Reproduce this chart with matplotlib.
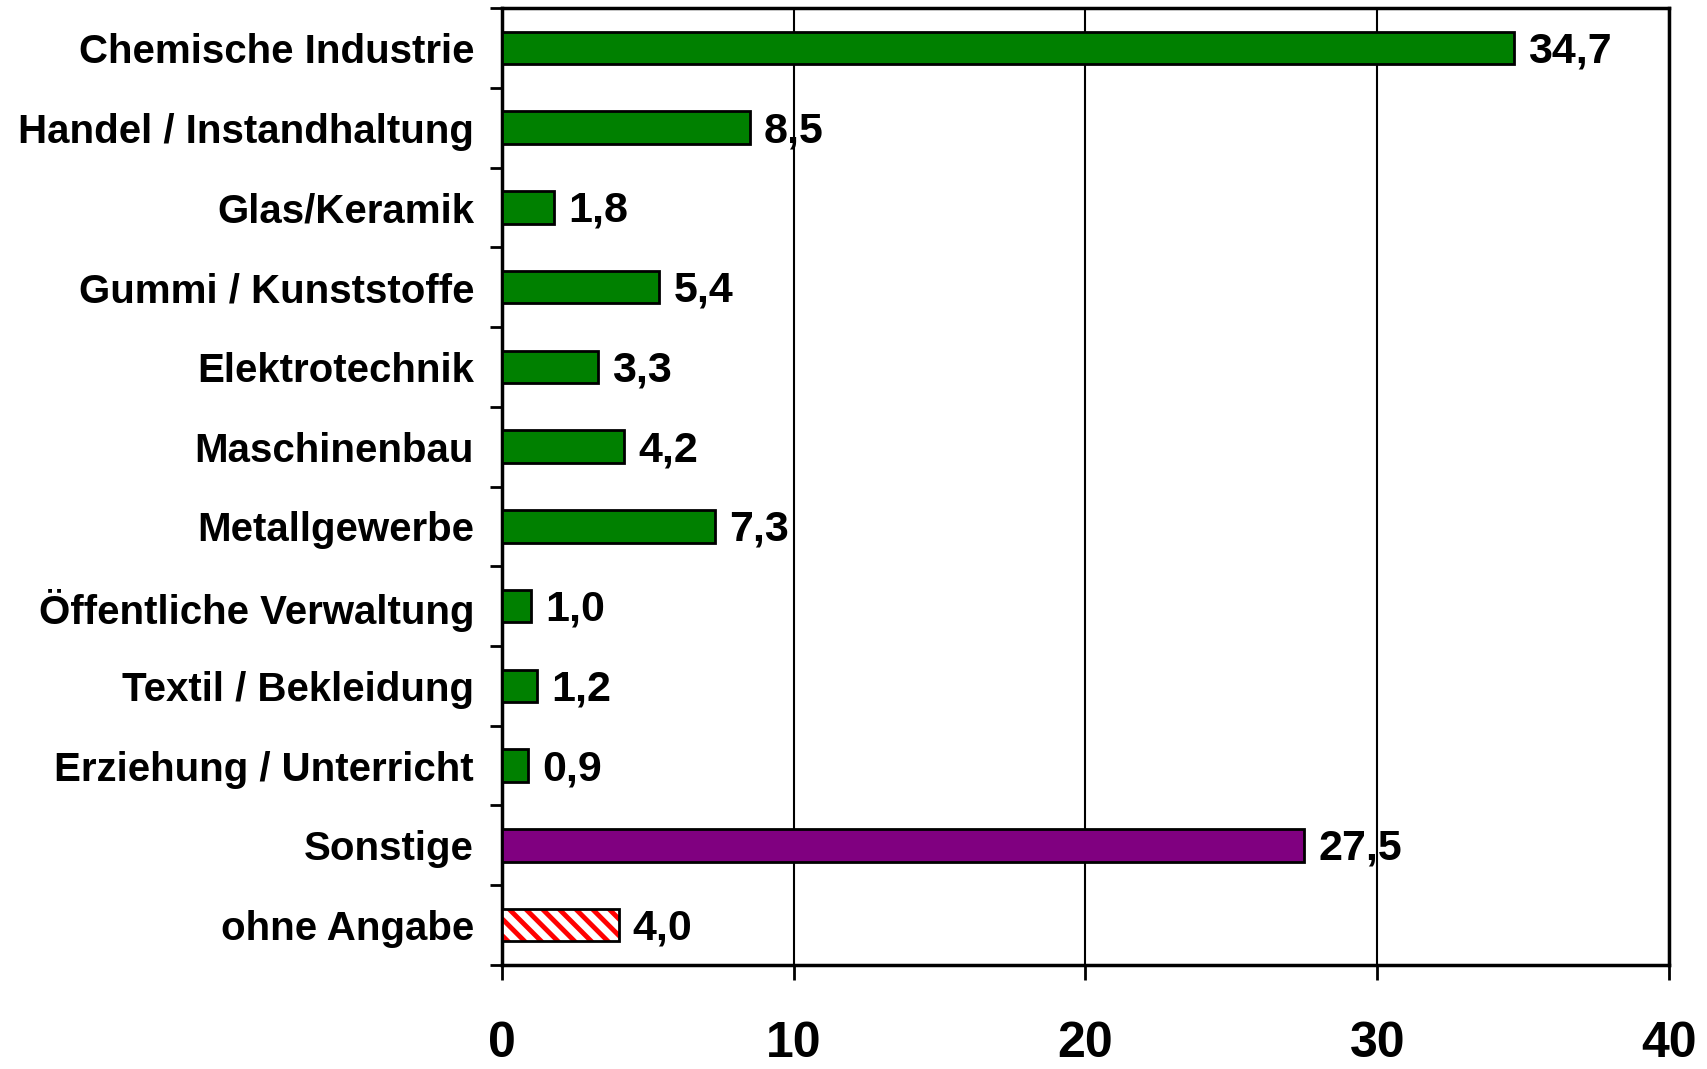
import matplotlib.pyplot as plt
import numpy as np

plt.rcParams['font.family'] = ['Liberation Sans', 'DejaVu Sans']
plt.rcParams['font.weight'] = 'bold'
plt.rcParams['hatch.linewidth'] = 3.5

categories = ['Chemische Industrie', 'Handel / Instandhaltung', 'Glas/Keramik',
              'Gummi / Kunststoffe', 'Elektrotechnik', 'Maschinenbau',
              'Metallgewerbe', 'Öffentliche Verwaltung', 'Textil / Bekleidung',
              'Erziehung / Unterricht', 'Sonstige', 'ohne Angabe']
values = [34.7, 8.5, 1.8, 5.4, 3.3, 4.2, 7.3, 1.0, 1.2, 0.9, 27.5, 4.0]
labels = ['34,7', '8,5', '1,8', '5,4', '3,3', '4,2', '7,3', '1,0', '1,2', '0,9', '27,5', '4,0']
x_ticks = [0, 10, 20, 30, 40]

fig = plt.figure(figsize=(17.07, 10.69), dpi=100)
ax = fig.add_axes([0.294, 0.0973, 0.9778 - 0.294, 0.9925 - 0.0973])

y = np.arange(len(categories))
h = 0.41

# green for the industries, purple for "Sonstige", hatched for "ohne Angabe"
ax.barh(y[:10], values[:10], height=h, color='#008000', edgecolor='black', linewidth=2, zorder=3)
ax.barh(y[10], values[10], height=h, color='#800080', edgecolor='black', linewidth=2, zorder=3)
ax.barh(y[11], values[11], height=h, color='white', edgecolor='#ff0000', hatch='\\\\', linewidth=0, zorder=3)
ax.barh(y[11], values[11], height=h, color='none', edgecolor='black', linewidth=2, zorder=4)

for yi, v, s in zip(y, values, labels):
    ax.annotate(s, (v, yi), xytext=(10, -2.5), textcoords='offset points',
                va='center', ha='left', fontsize=31, fontweight='bold')

ax.set_xlim(0, 40)
ax.set_ylim(len(categories) - 0.5, -0.5)

ax.set_xticks(x_ticks)
ax.set_xticklabels([str(t) for t in x_ticks], fontsize=36, fontweight='bold')
ax.tick_params(axis='x', length=11, width=2, pad=29)

ax.set_yticks(np.arange(len(categories) + 1) - 0.5)
ax.set_yticklabels([])
ax.set_yticks(y, minor=True)
ax.set_yticklabels(categories, minor=True, fontsize=29, fontweight='bold')
ax.tick_params(axis='y', which='major', length=9, width=2)
ax.tick_params(axis='y', which='minor', length=0, pad=20)

ax.grid(axis='x', color='black', linewidth=1.5, zorder=1)
ax.set_axisbelow(True)
for sp in ax.spines.values():
    sp.set_linewidth(2.5)

fig.savefig('out.png', dpi=100)
